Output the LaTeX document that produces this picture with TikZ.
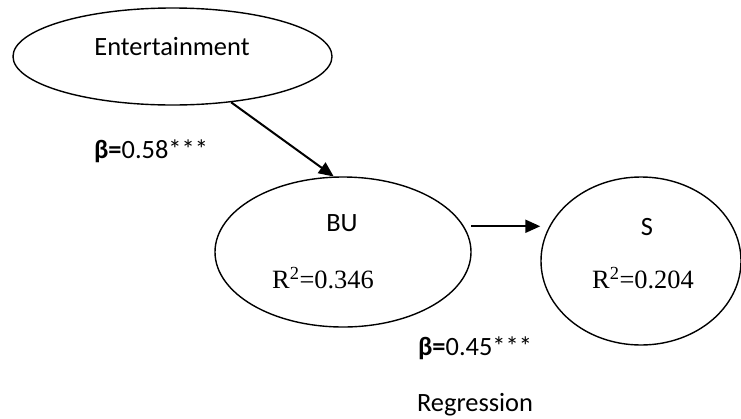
\documentclass[tikz,border=0pt]{standalone}
\usepackage{fontspec}
\setmainfont{Carlito}
\newfontfamily\rfont{Liberation Serif}
\usetikzlibrary{arrows.meta,shapes.geometric}

\begin{document}
\begin{tikzpicture}[x=1pt,y=-1pt,
  every node/.style={font=\fontsize{26.4}{30}\selectfont},
  construct/.style={ellipse,draw,line width=1.4pt,inner sep=0pt},
  path arrow/.style={line width=2pt,-{Triangle[length=15pt,width=13pt]}}]
  \useasboundingbox (0,0) rectangle (741,418);

  % Constructs (ellipses)
  \node[construct,minimum width=319pt,minimum height=97pt] (ent) at (172.5,56.5) {};
  \node[construct,minimum width=256pt,minimum height=150pt] (bu) at (343,252) {};
  \node[construct,minimum width=200pt,minimum height=168pt] (s) at (641,261) {};

  % Names and R^2 values
  \node (entname) at (172,47) {Entertainment};
  \node (buname) at (342,223) {BU};
  \node (bursq) at (323,278) {\rfont R\textsuperscript{2}=0.346};
  \node (sname) at (647,227) {S};
  \node (srsq) at (643,278) {\rfont R\textsuperscript{2}=0.204};

  % Paths
  \draw[path arrow] (ent.-38) -- (bu.97);
  \draw[path arrow] ([xshift=7pt]bu.12) -- (bu.12 -| s.west);

  % Coefficients
  \node (betaent) at (151,151) {\textbf{β=}0.58***};
  \node (betabu) at (475,348) {\textbf{β=}0.45***};
  \node (method) at (475,405) {Regression};
\end{tikzpicture}
\end{document}
